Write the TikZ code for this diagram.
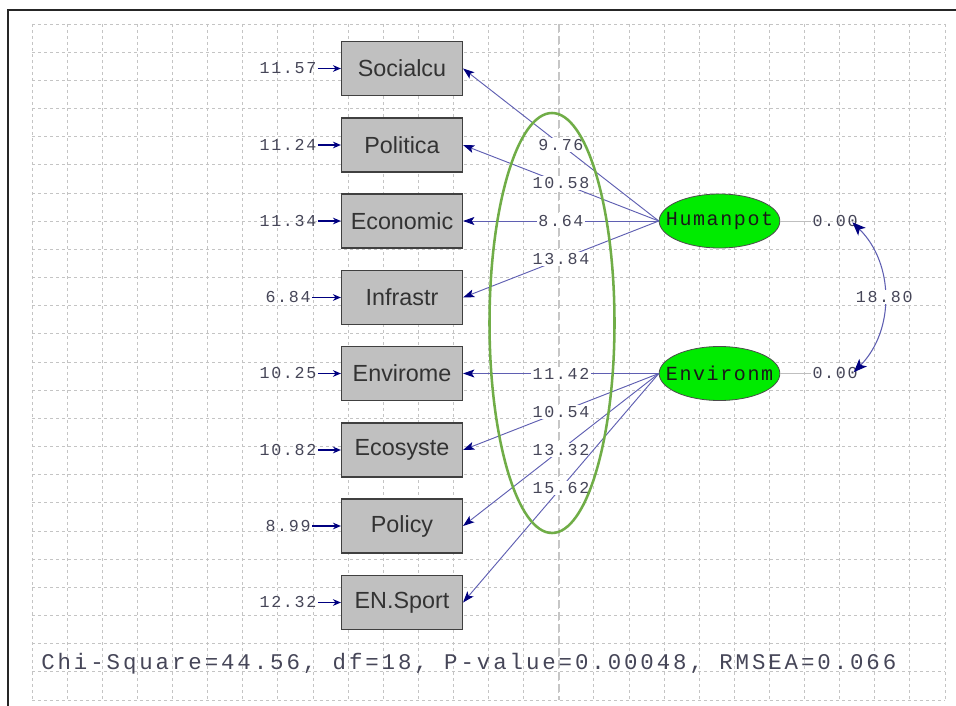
\documentclass[tikz,border=0pt]{standalone}
\usepackage{fontspec}
\usepackage{tikz}
\usetikzlibrary{shapes.geometric,arrows.meta}
\usepackage{xcolor}

\newfontfamily\boxfont{Liberation Sans}
\newfontfamily\numfont[LetterSpace=10]{Liberation Mono}
\newfontfamily\latfont[LetterSpace=8]{Liberation Mono}
\newfontfamily\fitfont[LetterSpace=13]{Liberation Mono}

\definecolor{boxgray}{RGB}{192,192,192}
\definecolor{latgreen}{RGB}{0,235,0}
\definecolor{pathblue}{RGB}{95,95,178}
\definecolor{tipnavy}{RGB}{0,0,128}
\definecolor{numgray}{RGB}{70,70,88}
\definecolor{ringgreen}{RGB}{112,173,71}
\definecolor{gridgray}{RGB}{196,196,196}

\begin{document}
\begin{tikzpicture}[
    x=0.75pt, y=-0.75pt,
    every node/.style={font=\numfont\fontsize{12.5}{14}\selectfont, text=numgray},
    indicator/.style={
        rectangle,
        draw=black!75,
        line width=1.1pt,
        fill=boxgray,
        minimum width=90.5pt,
        minimum height=40.2pt,
        inner sep=0pt,
        text=black!80,
        font=\boxfont\fontsize{17.5}{20}\selectfont
    },
    latent/.style={
        ellipse,
        draw=black!70,
        line width=0.6pt,
        fill=latgreen,
        minimum width=90.5pt,
        minimum height=40.5pt,
        inner sep=0pt,
        text=black!90,
        font=\latfont\fontsize{15}{17}\selectfont
    },
    estimate/.style={inner sep=1pt},
    coef/.style={inner sep=1pt, fill=white},
    gridline/.style={gridgray, line width=0.6pt, dash pattern=on 2.5pt off 2pt},
    errpath/.style={tipnavy, line width=1.4pt, -{Stealth[length=6pt,width=5pt]}},
    loading/.style={pathblue, line width=0.7pt, -{Stealth[length=8.5pt,width=6pt,inset=2pt,color=tipnavy]}},
    covar/.style={pathblue, line width=0.8pt, {Stealth[length=10pt,width=8pt,inset=2.5pt,color=tipnavy]}-{Stealth[length=10pt,width=8pt,inset=2.5pt,color=tipnavy]}}
]

% Canvas and frame
\fill[white] (0,0) rectangle (956,706);
\useasboundingbox (0,0) rectangle (956,706);
\draw[line width=1.6pt, black!85] (8,706) -- (8,10) -- (956,10);

% Dashed grid
\foreach \i in {0,...,26}
    \draw[gridline] ({32+35.115*\i},24) -- ({32+35.115*\i},700);
\foreach \j in {0,...,24}
    \draw[gridline] (32,{24+28.167*\j}) -- (945,{24+28.167*\j});
\draw[gray!45, line width=1.2pt, dash pattern=on 6pt off 3pt] (558.7,24) -- (558.7,700);

% Observed variables
\node[indicator] (soc) at (402, 68.5) {Socialcu};
\node[indicator] (pol) at (402, 145) {Politica};
\node[indicator] (eco) at (402, 221) {Economic};
\node[indicator] (inf) at (402, 297.5) {Infrastr};
\node[indicator] (evr) at (402, 373.5) {Envirome};
\node[indicator] (ecs) at (402, 450) {Ecosyste};
\node[indicator] (pcy) at (402, 526) {Policy};
\node[indicator] (spo) at (402, 602.5) {EN.Sport};

% Error variances
\node[estimate] (soc-err) at (288, 68.5) {11.57};
\node[estimate] (pol-err) at (288, 145) {11.24};
\node[estimate] (eco-err) at (288, 221) {11.34};
\node[estimate] (inf-err) at (288, 297.5) {6.84};
\node[estimate] (evr-err) at (288, 373.5) {10.25};
\node[estimate] (ecs-err) at (288, 450) {10.82};
\node[estimate] (pcy-err) at (288, 526) {8.99};
\node[estimate] (spo-err) at (288, 602.5) {12.32};

\draw[errpath] (soc-err) -- (soc);
\draw[errpath] (pol-err) -- (pol);
\draw[errpath] (eco-err) -- (eco);
\draw[errpath] (inf-err) -- (inf);
\draw[errpath] (evr-err) -- (evr);
\draw[errpath] (ecs-err) -- (ecs);
\draw[errpath] (pcy-err) -- (pcy);
\draw[errpath] (spo-err) -- (spo);

% Latent variables
\node[latent] (hp) at (719.5, 221) {\makebox[0pt]{Humanpot}};
\node[latent] (env) at (719.5, 373.5) {\makebox[0pt]{Environm}};

\node[estimate] (hp-var) at (835, 221) {0.00};
\node[estimate] (env-var) at (835, 373.5) {0.00};
\draw[gray!50, line width=0.6pt] (hp) -- (hp-var);
\draw[gray!50, line width=0.6pt] (env) -- (env-var);

% Loadings
\draw[loading] (hp.west) -- node[coef] {9.76} (soc.east);
\draw[loading] (hp.west) -- node[coef] {10.58} (pol.east);
\draw[loading] (hp.west) -- node[coef] {8.64} (eco.east);
\draw[loading] (hp.west) -- node[coef] {13.84} (inf.east);
\draw[loading] (env.west) -- node[coef] {11.42} (evr.east);
\draw[loading] (env.west) -- node[coef] {10.54} (ecs.east);
\draw[loading] (env.west) -- node[coef] {13.32} (pcy.east);
\draw[loading] (env.west) -- node[coef] {15.62} (spo.east);

% Covariance between the latents
\draw[covar] ([xshift=-5pt, yshift=-1pt]hp-var.east) to[bend left=45] node[coef] {18.80} ([xshift=-4pt, yshift=1pt]env-var.east);

% Highlight ring
\draw[ringgreen, line width=1.9pt] (552, 323) ellipse [x radius=62.5, y radius=210];

% Fit statistics
\node[anchor=west, inner sep=0pt, font=\fitfont\fontsize{16.8}{20}\selectfont] (fit) at (41, 664) {Chi-Square=44.56, df=18, P-value=0.00048, RMSEA=0.066};

\end{tikzpicture}
\end{document}
